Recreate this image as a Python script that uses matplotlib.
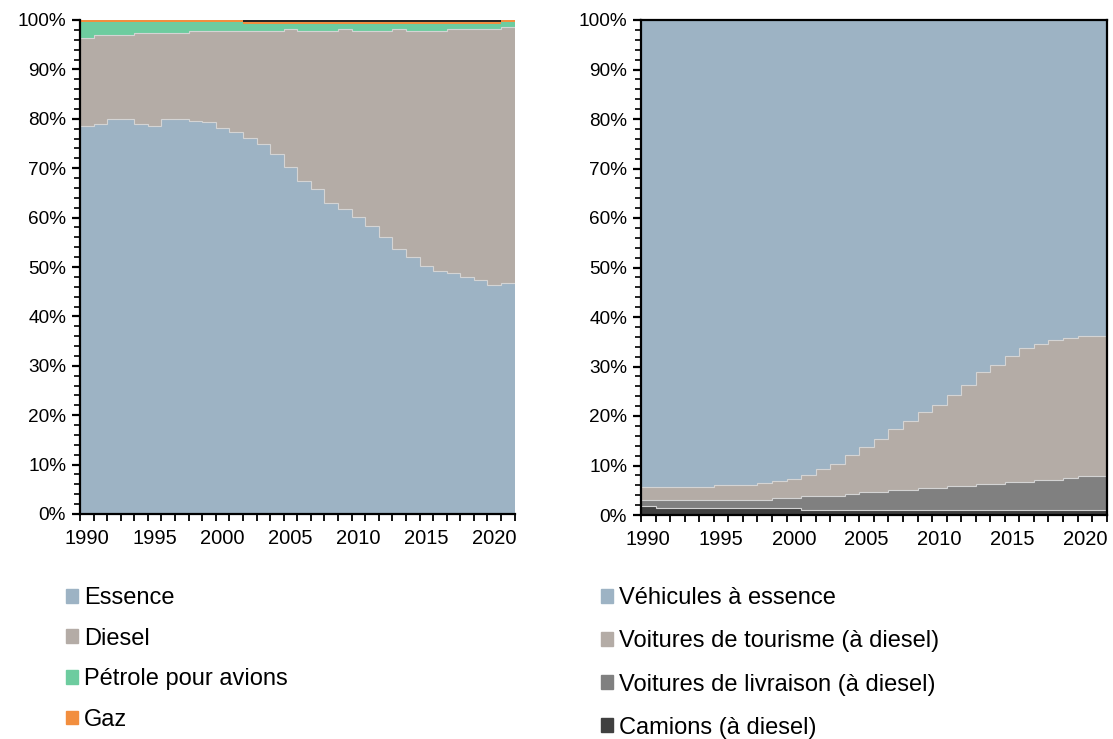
import numpy as np
import matplotlib
matplotlib.use("Agg")
import matplotlib.pyplot as plt
from matplotlib.patches import Patch

plt.rcParams['font.family'] = ['Liberation Sans', 'DejaVu Sans']

years = list(range(1990, 2022))

# ---- Left chart: share by fuel (%) ----
essence = [78.5, 78.9, 80.0, 80.0, 78.9, 78.5, 80.0, 80.0, 79.6, 79.3, 78.1, 77.3,
           76.1, 74.8, 72.8, 70.2, 67.5, 65.8, 62.9, 61.7, 60.2, 58.4, 56.1, 53.6,
           52.0, 50.3, 49.1, 48.7, 47.9, 47.4, 46.3, 46.7]
diesel = [17.9, 18.0, 16.9, 16.9, 18.4, 18.8, 17.3, 17.3, 18.1, 18.4, 19.6, 20.4,
          21.6, 22.9, 24.9, 27.9, 30.2, 31.9, 34.8, 36.4, 37.5, 39.3, 41.6, 44.5,
          45.7, 47.4, 48.6, 49.4, 50.2, 50.7, 51.8, 51.8]
petrole_avions = [3.2, 2.7, 2.7, 2.7, 2.3, 2.3, 2.3, 2.3, 1.9, 1.9, 1.9, 1.9,
                  1.55, 1.55, 1.55, 1.15, 1.55, 1.55, 1.55, 1.15, 1.55, 1.55, 1.55, 1.15,
                  1.55, 1.55, 1.55, 1.15, 1.15, 1.15, 1.15, 1.1]
gaz = [0.4] * 32
autre = [0.0, 0.0, 0.0, 0.0, 0.0, 0.0, 0.0, 0.0, 0.0, 0.0, 0.0, 0.0,
         0.35, 0.35, 0.35, 0.35, 0.35, 0.35, 0.35, 0.35, 0.35, 0.35, 0.35, 0.35,
         0.35, 0.35, 0.35, 0.35, 0.35, 0.35, 0.35, 0.0]

# ---- Right chart: share by vehicle type (%) ----
camions = [1.8, 1.4, 1.4, 1.4, 1.4, 1.4, 1.4, 1.4, 1.4, 1.4, 1.4, 1.0,
           1.0, 1.0, 1.0, 1.0, 1.0, 1.0, 1.0, 1.0, 1.0, 1.0, 1.0, 1.0,
           1.0, 1.0, 1.0, 1.0, 1.0, 1.0, 1.0, 1.0]
livraison = [1.2, 1.6, 1.6, 1.6, 1.6, 1.6, 1.6, 1.6, 1.6, 2.0, 2.0, 2.8,
             2.8, 2.8, 3.2, 3.7, 3.7, 4.1, 4.1, 4.5, 4.5, 4.9, 4.9, 5.3,
             5.3, 5.7, 5.7, 6.1, 6.1, 6.5, 6.9, 6.9]
tourisme = [2.6, 2.6, 2.6, 2.6, 2.6, 3.0, 3.0, 3.0, 3.4, 3.4, 3.8, 4.2,
            5.4, 6.6, 7.9, 9.0, 10.6, 12.2, 13.8, 15.4, 16.7, 18.3, 20.4, 22.5,
            24.1, 25.4, 27.0, 27.4, 28.2, 28.2, 28.2, 28.2]
vehicules_essence = [94.4, 94.4, 94.4, 94.4, 94.4, 94.0, 94.0, 94.0, 93.6, 93.2, 92.8, 92.0,
                     90.8, 89.6, 87.9, 86.3, 84.7, 82.7, 81.1, 79.1, 77.8, 75.8, 73.7, 71.2,
                     69.6, 67.9, 66.3, 65.5, 64.7, 64.3, 63.9, 63.9]

left_series = [("Essence", essence, "#9db3c4"),
               ("Diesel", diesel, "#b4aca6"),
               ("Pétrole pour avions", petrole_avions, "#6dcc9f"),
               ("Gaz", gaz, "#f28e3e"),
               (None, autre, "#262626")]
right_series = [("Camions (à diesel)", camions, "#404040"),
                ("Voitures de livraison (à diesel)", livraison, "#808080"),
                ("Voitures de tourisme (à diesel)", tourisme, "#b4aca6"),
                ("Véhicules à essence", vehicules_essence, "#9db3c4")]

fig = plt.figure(figsize=(11.13, 7.39), dpi=100)
axL = fig.add_axes([80 / 1113, 225 / 739, 434.6 / 1113, 494 / 739])
axR = fig.add_axes([641 / 1113, 224 / 739, 465.7 / 1113, 495 / 739])

edges = np.arange(years[0] - 0.5, years[-1] + 1.0, 1.0)
EDGE = "#d4d4d4"


def draw_stack(ax, series, n_edges):
    base = np.zeros(len(years))
    for name, vals, col in series:
        v = np.asarray(vals, dtype=float)
        top = base + v
        ax.stairs(top, edges, baseline=base, fill=True, color=col, lw=0, zorder=2)
        base = top
    base = np.zeros(len(years))
    for name, vals, col in series[:n_edges]:
        base = base + np.asarray(vals, dtype=float)
        ax.stairs(base, edges, baseline=None, fill=False, color=EDGE, lw=0.8, zorder=3)


draw_stack(axL, left_series, 2)
draw_stack(axR, right_series, 3)

for ax in (axL, axR):
    ax.set_xlim(edges[0], edges[-1])
    ax.set_ylim(0, 100)
    ax.set_yticks(np.arange(0, 101, 10))
    ax.set_yticklabels([f"{v}%" for v in range(0, 101, 10)])
    ax.set_yticks(np.arange(0, 101, 2), minor=True)
    ax.set_xticks([1990, 1995, 2000, 2005, 2010, 2015, 2020])
    ax.set_xticklabels(["1990", "1995", "2000", "2005", "2010", "2015", "2020"])
    ax.set_xticks(edges, minor=True)
    ax.tick_params(axis='x', which='major', length=0, pad=11, labelsize=14.5)
    ax.tick_params(axis='x', which='minor', length=5, width=1.3, direction='out')
    ax.tick_params(axis='y', which='major', length=6, width=1.6, direction='out',
                   labelsize=13.7, pad=4)
    ax.tick_params(axis='y', which='minor', length=4, width=1.2, direction='out')
    for s in ax.spines.values():
        s.set_linewidth(1.6)
        s.set_zorder(5)

axL.spines['top'].set_visible(False)
axL.spines['right'].set_visible(False)

hL = [Patch(color=c) for n, v, c in left_series if n]
lL = [n for n, v, c in left_series if n]
fig.legend(hL, lL, loc='upper left', bbox_to_anchor=(66 / 1113, 1 - 587 / 739),
           frameon=False, fontsize=17, handlelength=0.52, handleheight=0.52,
           handletextpad=0.25, labelspacing=0.79, borderpad=0, borderaxespad=0)

order = [3, 2, 1, 0]
hR = [Patch(color=right_series[i][2]) for i in order]
lR = [right_series[i][0] for i in order]
fig.legend(hR, lR, loc='upper left', bbox_to_anchor=(601 / 1113, 1 - 587 / 739),
           frameon=False, fontsize=17, handlelength=0.52, handleheight=0.52,
           handletextpad=0.25, labelspacing=0.9, borderpad=0, borderaxespad=0)

fig.savefig("out.png", dpi=100)
